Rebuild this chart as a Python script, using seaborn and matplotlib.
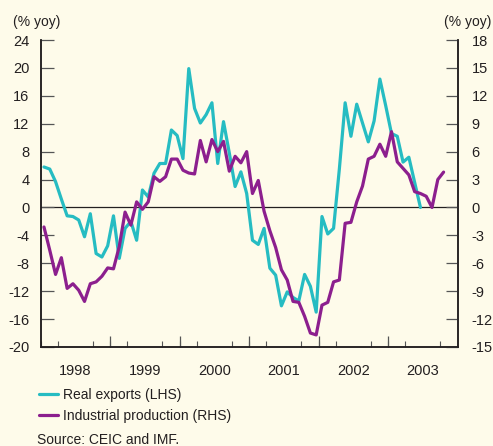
import numpy as np
import pandas as pd
import seaborn as sns
import matplotlib.pyplot as plt

# monthly, % yoy, from Jan 1998
exports = [5.8, 5.5, 3.7, 1.2, -1.2, -1.3, -1.8, -4.2, -0.9, -6.6, -7.1, -5.5,
           -1.2, -7.3, -3.0, -2.0, -4.7, 2.5, 1.5, 4.9, 6.3, 6.3, 11.1, 10.3,
           7.0, 19.9, 14.2, 12.1, 13.3, 15.0, 6.3, 12.3, 7.8, 3.0, 5.1, 2.0,
           -4.7, -5.3, -3.0, -8.7, -9.7, -14.1, -12.1, -12.9, -13.4, -9.6, -11.3, -15.0,
           -1.3, -3.8, -3.0, 5.5, 15.0, 10.2, 14.8, 12.1, 9.4, 12.4, 18.4, 14.6,
           10.6, 10.2, 6.5, 7.2, 3.6, 0.0]
production = [-2.1, -4.6, -7.2, -5.4, -8.7, -8.2, -8.9, -10.1, -8.2, -8.0, -7.4, -6.5,
              -6.6, -4.2, -0.5, -1.9, 0.6, -0.2, 0.6, 3.3, 2.8, 3.3, 5.2, 5.2,
              4.0, 3.7, 3.6, 7.2, 4.9, 7.3, 6.0, 7.1, 3.9, 5.5, 4.8, 6.0,
              1.5, 2.9, -0.4, -2.5, -4.3, -6.7, -7.8, -10.1, -10.2, -11.7, -13.5, -13.7,
              -10.5, -10.2, -8.0, -7.8, -1.7, -1.6, 0.6, 2.3, 5.2, 5.5, 6.8, 5.5,
              8.15, 4.9, 4.2, 3.5, 1.7, 1.5, 1.2, 0.0, 3.0, 3.8]
years = [1998, 1999, 2000, 2001, 2002, 2003]
left_ticks = list(range(-20, 25, 4))
right_ticks = list(range(-15, 19, 3))

teal = '#26bcc2'
purple = '#8c1f8e'
cream = '#fefbea'
ink = '#231f20'

sns.set_theme(style='white')
plt.rcParams['font.family'] = ['Liberation Sans', 'DejaVu Sans']
plt.rcParams['font.size'] = 10
plt.rcParams['axes.unicode_minus'] = False

exp_df = pd.DataFrame({'t': years[0] + (np.arange(len(exports)) + 0.6) / 12,
                       'v': exports})
prod_df = pd.DataFrame({'t': years[0] + (np.arange(len(production)) + 0.6) / 12,
                        'v': production})

fig = plt.figure(figsize=(4.93, 4.46), dpi=100, facecolor=cream)
ax = fig.add_axes([40.5 / 493, 1 - 347 / 446, 417 / 493, 307 / 446])
ax.set_facecolor(cream)
ax2 = ax.twinx()
ax2.patch.set_visible(False)

sns.lineplot(data=exp_df, x='t', y='v', ax=ax, color=teal, lw=2.3,
             label='Real exports (LHS)', legend=False)
sns.lineplot(data=prod_df, x='t', y='v', ax=ax2, color=purple, lw=2.3,
             label='Industrial production (RHS)', legend=False)
ax.axhline(0, color=ink, lw=0.9, zorder=0)

ax.set_xlim(years[0], years[-1] + 1)
ax.set_ylim(left_ticks[0], left_ticks[-1])
ax2.set_ylim(right_ticks[0], right_ticks[-1])
ax.set_yticks(left_ticks)
ax2.set_yticks(right_ticks)
ax.set_xlabel('')
ax.set_ylabel('')
ax2.set_ylabel('')

# year labels centred, ticks on year and quarter boundaries
ax.set_xticks([y + 0.5 for y in years], [str(y) for y in years])
ax.set_xticks(np.arange(years[0], years[-1] + 1, 0.25), minor=True)
ax.tick_params(axis='x', which='major', length=0, pad=12, labelsize=10.5, labelcolor=ink)
ax.tick_params(axis='x', which='minor', direction='in', length=4, width=0.8, color='#555555', bottom=True)
sec = ax.secondary_xaxis('bottom')
sec.set_xticks(years[1:], [''] * (len(years) - 1))
sec.tick_params(direction='in', length=8, width=0.9, color='#555555')
sec.spines['bottom'].set_visible(False)

ax.tick_params(axis='y', direction='in', length=9, width=0.9, color='#555555',
               pad=8, labelsize=10.5, labelcolor=ink, left=True)
ax2.tick_params(axis='y', direction='in', length=9, width=0.9, color='#555555',
                pad=10, labelsize=10.5, labelcolor=ink, right=True)

for a in (ax, ax2):
    a.spines['top'].set_visible(False)
    for s in ('left', 'right', 'bottom'):
        a.spines[s].set_color(ink)
        a.spines[s].set_linewidth(1.1)

fig.text(37 / 493, 1 - 22 / 446, '(% yoy)', ha='center', va='center', color=ink, fontsize=10)
fig.text(468 / 493, 1 - 22 / 446, '(% yoy)', ha='center', va='center', color=ink, fontsize=10)

h1, l1 = ax.get_legend_handles_labels()
h2, l2 = ax2.get_legend_handles_labels()
fig.legend(h1 + h2, l1 + l2, loc='upper left', bbox_to_anchor=(26 / 493, 1 - 375 / 446),
           frameon=False, fontsize=10, handlelength=1.4, handletextpad=0.35,
           labelspacing=0.55, labelcolor=ink)
fig.text(37 / 493, 1 - 440 / 446, 'Source: CEIC and IMF.', ha='left', va='center',
         color=ink, fontsize=10)

fig.savefig('out.png', dpi=100, facecolor=cream)
